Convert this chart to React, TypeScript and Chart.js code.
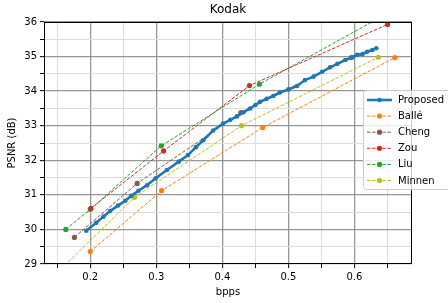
import React, { useEffect, useRef } from "react";
import { Chart, registerables } from "chart.js";

Chart.register(...registerables);

// ---- data ----
const proposedX = [0.194, 0.209, 0.22, 0.23, 0.242, 0.253, 0.262, 0.273, 0.286, 0.299, 0.316, 0.334, 0.348, 0.36, 0.371, 0.386, 0.401, 0.412, 0.422, 0.432, 0.442, 0.45, 0.457, 0.467, 0.477, 0.487, 0.5, 0.513, 0.525, 0.538, 0.551, 0.563, 0.574, 0.586, 0.597, 0.604, 0.612, 0.619, 0.627, 0.633];
const proposedY = [29.96, 30.19, 30.37, 30.53, 30.69, 30.83, 30.97, 31.12, 31.28, 31.48, 31.72, 31.96, 32.15, 32.38, 32.58, 32.86, 33.06, 33.17, 33.27, 33.39, 33.5, 33.6, 33.69, 33.78, 33.86, 33.96, 34.05, 34.15, 34.32, 34.42, 34.56, 34.69, 34.79, 34.9, 34.98, 35.05, 35.07, 35.14, 35.19, 35.24];

const balleX = [0.2, 0.308, 0.461, 0.661];
const balleY = [29.36, 31.12, 32.95, 34.97];

const chengX = [0.176, 0.271, 0.428, 0.595];
const chengY = [29.77, 31.33, 33.38, 34.97];

const zouX = [0.201, 0.311, 0.441, 0.65];
const zouY = [30.61, 32.27, 34.16, 35.93];

const liuX = [0.163, 0.2, 0.3075, 0.456, 0.632];
const liuY = [30.0, 30.58, 32.42, 34.2, 36.06];

const minnenX = [0.15, 0.267, 0.429, 0.636];
const minnenY = [28.75, 30.93, 33.0, 34.98];

const xTicks = [0.15, 0.2, 0.25, 0.3, 0.35, 0.4, 0.45, 0.5, 0.55, 0.6, 0.65];
const yTicks = [29, 29.5, 30, 30.5, 31, 31.5, 32, 32.5, 33, 33.5, 34, 34.5, 35, 35.5, 36];

const titleText = "Kodak";
const xLabel = "bpps";
const yLabel = "PSNR (dB)";

const seriesNames = ["Proposed", "Ballé", "Cheng", "Zou", "Liu", "Minnen"];
const seriesColors = ["#1f77b4", "#ff7f0e", "#8c564b", "#d62728", "#2ca02c", "#bcbd22"];

const FONT = "'DejaVu Sans', sans-serif";

function pts(xs: number[], ys: number[]) {
  return xs.map((x, i) => ({ x, y: ys[i] }));
}

function isMajor(v: number, step: number) {
  const r = v / step;
  return Math.abs(r - Math.round(r)) < 1e-6;
}

export default function App() {
  const ref = useRef<HTMLCanvasElement | null>(null);

  useEffect(() => {
    document.body.style.margin = "0";
    const canvas = ref.current;
    if (!canvas) return;

    const allX = [proposedX, balleX, chengX, zouX, liuX, minnenX];
    const allY = [proposedY, balleY, chengY, zouY, liuY, minnenY];

    const datasets = seriesNames.map((name, i) => {
      const main = i === 0;
      return {
        label: name,
        data: pts(allX[i], allY[i]),
        borderColor: seriesColors[i],
        backgroundColor: seriesColors[i],
        showLine: true,
        borderWidth: main ? 2.6 : 1,
        borderDash: main ? [] : [3.5, 1.6],
        pointRadius: main ? 2.3 : 2.6,
        pointBorderWidth: 0,
        pointHoverRadius: main ? 2.3 : 2.6,
        tension: 0,
        order: main ? 0 : 1,
      };
    });

    const decor = {
      id: "decor",
      afterDatasetsDraw(chart: any) {
        const { ctx, chartArea } = chart;
        const { left, right, top, bottom } = chartArea;
        ctx.save();
        // frame
        ctx.strokeStyle = "#000";
        ctx.lineWidth = 1;
        ctx.strokeRect(left + 0.5, top + 0.5, right - left - 1, bottom - top - 1);

        // title
        ctx.fillStyle = "#000";
        ctx.font = `12px ${FONT}`;
        ctx.textAlign = "center";
        ctx.textBaseline = "middle";
        ctx.fillText(titleText, (left + right) / 2, 10);

        // x label
        ctx.font = `10px ${FONT}`;
        ctx.fillText(xLabel, (left + right) / 2, 292);

        // y label
        ctx.save();
        ctx.translate(12, (top + bottom) / 2);
        ctx.rotate(-Math.PI / 2);
        ctx.fillText(yLabel, 0, 0);
        ctx.restore();

        // legend
        const lx = 363.5, ly = 90.5, lw = 100, lh = 99;
        ctx.fillStyle = "rgba(255,255,255,0.8)";
        ctx.strokeStyle = "#cccccc";
        ctx.lineWidth = 1;
        ctx.beginPath();
        (ctx as any).roundRect ? (ctx as any).roundRect(lx, ly, lw, lh, 3) : ctx.rect(lx, ly, lw, lh);
        ctx.fill();
        ctx.stroke();

        chart.data.datasets.forEach((ds: any, i: number) => {
          const y = 100 + i * 16.1;
          ctx.strokeStyle = ds.borderColor;
          ctx.lineWidth = ds.borderWidth;
          ctx.setLineDash(ds.borderDash || []);
          ctx.beginPath();
          ctx.moveTo(367, y);
          ctx.lineTo(392, y);
          ctx.stroke();
          ctx.setLineDash([]);
          ctx.fillStyle = ds.backgroundColor;
          ctx.beginPath();
          ctx.arc(379.5, y, ds.pointRadius, 0, Math.PI * 2);
          ctx.fill();
          ctx.fillStyle = "#000";
          ctx.font = `10px ${FONT}`;
          ctx.textAlign = "left";
          ctx.textBaseline = "middle";
          ctx.fillText(ds.label, 398, y + 0.5);
        });
        ctx.restore();
      },
    };

    const chart = new Chart(canvas, {
      type: "scatter",
      data: { datasets: datasets as any },
      options: {
        animation: false,
        responsive: false,
        maintainAspectRatio: false,
        layout: { padding: { left: 0, right: 36, top: 22, bottom: 0 } },
        plugins: {
          legend: { display: false },
          title: { display: false },
          tooltip: { enabled: false },
        },
        scales: {
          x: {
            type: "linear",
            min: 0.13,
            max: 0.687,
            afterBuildTicks: (s: any) => {
              s.ticks = xTicks.map((v) => ({ value: v }));
            },
            afterFit: (s: any) => {
              s.height = 39;
            },
            border: { display: false },
            grid: {
              color: (c: any) => (c.tick && isMajor(c.tick.value, 0.1) ? "rgba(140,140,140,0.9)" : "#dddddd"),
              lineWidth: (c: any) => (c.tick && isMajor(c.tick.value, 0.1) ? 1.3 : 1),
              tickColor: "#000",
              tickLength: 4,
              tickWidth: 1,
            },
            ticks: {
              autoSkip: false,
              maxRotation: 0,
              padding: 3,
              color: "#000",
              font: { family: FONT, size: 10 },
              callback: (v: any) => (isMajor(Number(v), 0.1) ? Number(v).toFixed(1) : ""),
            },
          },
          y: {
            type: "linear",
            min: 29,
            max: 36,
            afterBuildTicks: (s: any) => {
              s.ticks = yTicks.map((v) => ({ value: v }));
            },
            afterFit: (s: any) => {
              s.width = 44;
            },
            border: { display: false },
            grid: {
              color: (c: any) => (c.tick && isMajor(c.tick.value, 1) ? "rgba(140,140,140,0.9)" : "#dddddd"),
              lineWidth: (c: any) => (c.tick && isMajor(c.tick.value, 1) ? 1.3 : 1),
              tickColor: "#000",
              tickLength: 4,
              tickWidth: 1,
            },
            ticks: {
              autoSkip: false,
              padding: 3,
              color: "#000",
              font: { family: FONT, size: 10 },
              callback: (v: any) => (isMajor(Number(v), 1) ? String(Math.round(Number(v))) : ""),
            },
          },
        },
      },
      plugins: [decor],
    });

    return () => chart.destroy();
  }, []);

  return (
    <div style={{ position: "absolute", left: 0, top: 0, width: 448, height: 303, background: "#fff" }}>
      <canvas ref={ref} width={448} height={303} style={{ display: "block", width: 448, height: 303 }} />
    </div>
  );
}
